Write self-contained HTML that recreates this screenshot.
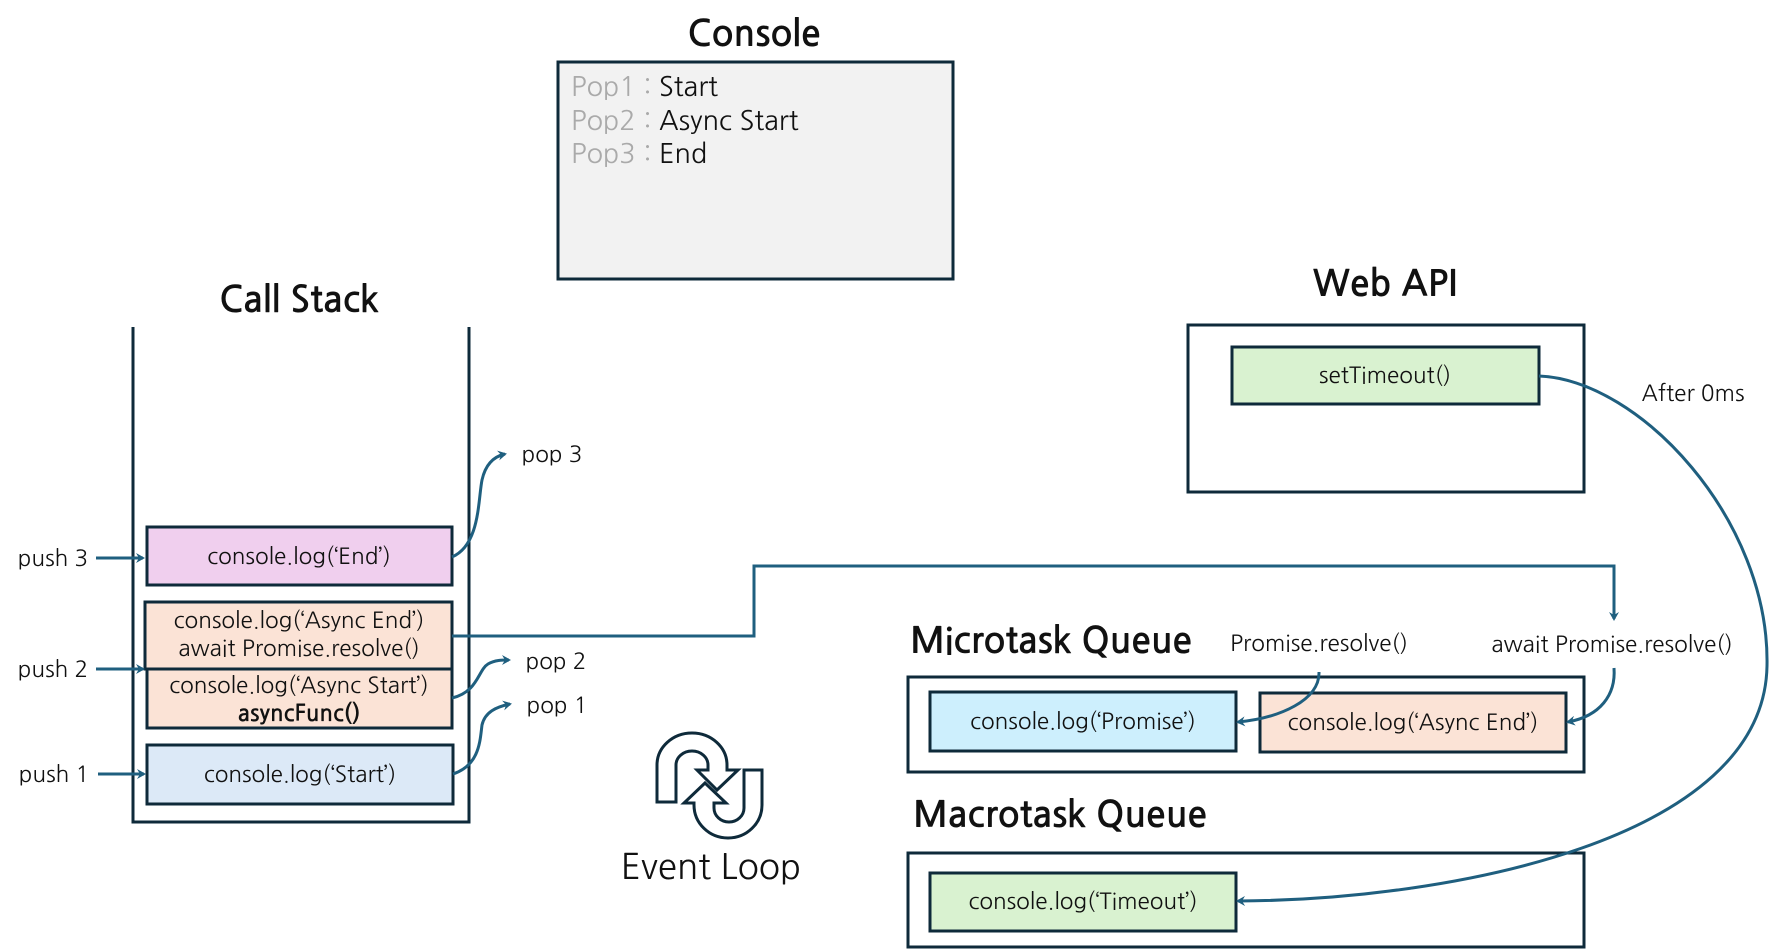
<!DOCTYPE html>
<html><head><meta charset="utf-8"><style>
html,body{margin:0;padding:0;background:#fff;width:1770px;height:950px;overflow:hidden}
svg{display:block}
text{font-family:"NanumGothic","Liberation Sans",sans-serif;fill:#111}
</style></head><body>
<svg width="1770" height="950" viewBox="0 0 1770 950" xmlns="http://www.w3.org/2000/svg">
<defs>
<marker id="a" markerWidth="10" markerHeight="10" refX="7" refY="5" orient="auto" markerUnits="userSpaceOnUse">
<path d="M0,0 L9,5 L0,10 L3,5 Z" fill="#1f5f7f"/></marker>
</defs>
<g fill="none" stroke="#0e2a3a" stroke-width="3">
<rect x="558" y="62" width="395" height="217" fill="#f2f2f2"/>
<path d="M133,327 V822 H469 V327"/>
<rect x="147" y="527" width="305" height="58" fill="#f0cfee"/>
<rect x="145" y="602" width="307" height="67" fill="#fbe3d6"/>
<rect x="147" y="669" width="305" height="59" fill="#fbe3d6"/>
<rect x="147" y="745" width="306" height="59" fill="#dce9f7"/>
<rect x="1188" y="325" width="396" height="167"/>
<rect x="1232" y="347" width="307" height="57" fill="#d9f2d0"/>
<rect x="908" y="677" width="676" height="95"/>
<rect x="930" y="692" width="306" height="59" fill="#cdeffd"/>
<rect x="1260" y="693" width="306" height="59" fill="#fbe3d6"/>
<rect x="908" y="853" width="676" height="94"/>
<rect x="930" y="873" width="306" height="58" fill="#d9f2d0"/>
</g>
<g fill="#fff" stroke="#0e2a3a" stroke-width="3" transform="translate(640,720)">
<path d="M17,82 V45 A35,32 0 0 1 87,45 V50 H98 L77,70 L57,50 H68 V45 A16,14 0 0 0 36,45 V82 Z"/>
<path d="M122,50 V85 A34,33 0 0 1 54,85 V83 H44 L65,63 L86,83 H74 V88 A15,14 0 0 0 104,88 V50 Z"/>
</g>
<g fill="none" stroke="#1f5f7f" stroke-width="3" marker-end="url(#a)">
<path d="M96,558 H143"/>
<path d="M96,669 H143"/>
<path d="M98,774 H144"/>
<path d="M452,557 C480,545 478,500 482,480 C486,462 496,456 505,454"/>
<path d="M452,698 C478,692 478,670 488,664 C495,660 502,660 509,660"/>
<path d="M453,774 C480,765 480,740 482,725 C485,712 496,707 510,704"/>
<path d="M452,636 H754 V566 H1614 V619"/>
<path d="M1319,672 C1320,700 1280,718 1238,722"/>
<path d="M1614,668 C1616,695 1600,716 1568,722"/>
<path d="M1539,376 C1640,380 1770,520 1767,666 C1764,840 1450,900 1238,901"/>
</g>
<g font-size="36" font-weight="bold" text-anchor="middle">
<text x="754" y="46">Console</text>
<text x="299" y="312">Call Stack</text>
<text x="1385" y="296">Web API</text>
<text x="910" y="653" text-anchor="start" textLength="282">Microtask Queue</text>
<text x="913" y="827" text-anchor="start" textLength="294">Macrotask Queue</text>
</g>
<text x="711" y="879" font-size="35" text-anchor="middle">Event Loop</text>
<g font-size="27">
<text x="571" y="96"><tspan fill="#aaa">Pop1 : </tspan>Start</text>
<text x="571" y="130"><tspan fill="#aaa">Pop2 : </tspan>Async Start</text>
<text x="571" y="163"><tspan fill="#aaa">Pop3 : </tspan>End</text>
</g>
<g font-size="22.5" text-anchor="middle">
<text x="299" y="564">console.log(‘End’)</text>
<text x="299" y="628">console.log(‘Async End’)</text>
<text x="299" y="656">await Promise.resolve()</text>
<text x="299" y="693">console.log(‘Async Start’)</text>
<text x="299" y="721" font-weight="bold">asyncFunc()</text>
<text x="300" y="782">console.log(‘Start’)</text>
<text x="1385" y="383">setTimeout()</text>
<text x="1083" y="729">console.log(‘Promise’)</text>
<text x="1413" y="730">console.log(‘Async End’)</text>
<text x="1083" y="909">console.log(‘Timeout’)</text>
<text x="53" y="566">push 3</text>
<text x="53" y="677">push 2</text>
<text x="54" y="782">push 1</text>
<text x="552" y="462">pop 3</text>
<text x="556" y="669">pop 2</text>
<text x="557" y="713">pop 1</text>
<text x="1693" y="401">After 0ms</text>
<text x="1319" y="651">Promise.resolve()</text>
<text x="1612" y="652">await Promise.resolve()</text>
</g>
</svg>
</body></html>
